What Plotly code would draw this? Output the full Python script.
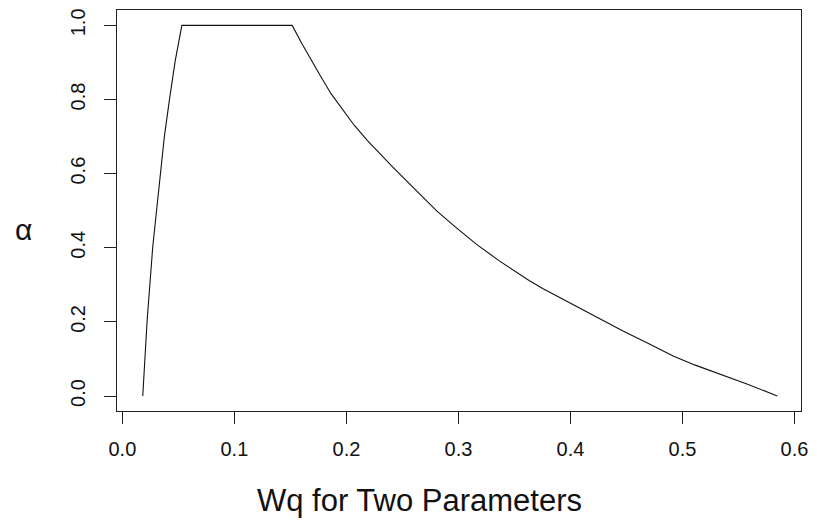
import plotly.graph_objects as go

# Wq values (x) and alpha values (y)
wq = [0.0182, 0.0221, 0.0271, 0.0339, 0.0374, 0.0419, 0.0472, 0.0531,
      0.1516, 0.1598, 0.1687, 0.1775, 0.1864, 0.1967, 0.2071, 0.2188,
      0.2306, 0.2410, 0.2631, 0.2808, 0.2985, 0.3162, 0.3368, 0.3516,
      0.3634, 0.3752, 0.3988, 0.4224, 0.4460, 0.4696, 0.4917, 0.5108,
      0.5345, 0.5581, 0.5846]
alpha = [0.0, 0.204, 0.402, 0.600, 0.698, 0.797, 0.905, 1.0,
         1.0, 0.953, 0.905, 0.860, 0.815, 0.771, 0.730, 0.689,
         0.651, 0.619, 0.552, 0.499, 0.453, 0.409, 0.364, 0.334,
         0.311, 0.290, 0.252, 0.214, 0.177, 0.142, 0.108, 0.084,
         0.058, 0.032, 0.0]

x_ticks = [0.0, 0.1, 0.2, 0.3, 0.4, 0.5, 0.6]
y_ticks = [0.0, 0.2, 0.4, 0.6, 0.8, 1.0]
x_title = "Wq for Two Parameters"
y_title = "α"

font_family = "Liberation Sans, Arial, sans-serif"

fig = go.Figure()
fig.add_trace(go.Scatter(x=wq, y=alpha, mode="lines",
                         line=dict(color="#111111", width=1.1),
                         showlegend=False, hoverinfo="skip"))

W, H = 817, 527
l, r, t, b = 117, 10, 9, 116

fig.update_layout(
    width=W, height=H,
    margin=dict(l=l, r=r, t=t, b=b, pad=0),
    paper_bgcolor="white", plot_bgcolor="white",
    font=dict(family=font_family, color="#111111", size=20),
    xaxis=dict(range=[-0.0048, 0.6058], tickvals=x_ticks,
               ticktext=[f"{v:.1f}" for v in x_ticks],
               showgrid=False, zeroline=False,
               showline=True, linecolor="#222222", linewidth=1, mirror=True,
               ticks="outside", ticklen=12, tickwidth=1, tickcolor="#222222",
               ticklabelstandoff=8,
               tickfont=dict(size=20, family=font_family, color="#111111")),
    yaxis=dict(range=[-0.0404, 1.0415], tickvals=y_ticks,
               ticktext=[f"{v:.1f}" for v in y_ticks],
               showgrid=False, zeroline=False,
               showline=True, linecolor="#222222", linewidth=1, mirror=True,
               ticks="outside", ticklen=12, tickwidth=1, tickcolor="#222222",
               tickangle=-90, ticklabelstandoff=11,
               tickfont=dict(size=20, family=font_family, color="#111111")),
    annotations=[
        dict(text=x_title, xref="paper", yref="paper",
             x=(422 - l) / (W - l - r), y=-(501 - (H - b)) / (H - t - b),
             xanchor="center", yanchor="middle", showarrow=False,
             font=dict(size=31, family=font_family, color="#111111")),
        dict(text=y_title, xref="paper", yref="paper",
             x=-(l - 23) / (W - l - r), y=((H - b) - 229) / (H - t - b),
             xanchor="center", yanchor="middle", showarrow=False,
             font=dict(size=30, family=font_family, color="#111111")),
    ],
)

fig.write_html("out.html",
               config={"displayModeBar": False},
               post_script="document.body.style.margin='0px';document.body.style.overflow='hidden';")
